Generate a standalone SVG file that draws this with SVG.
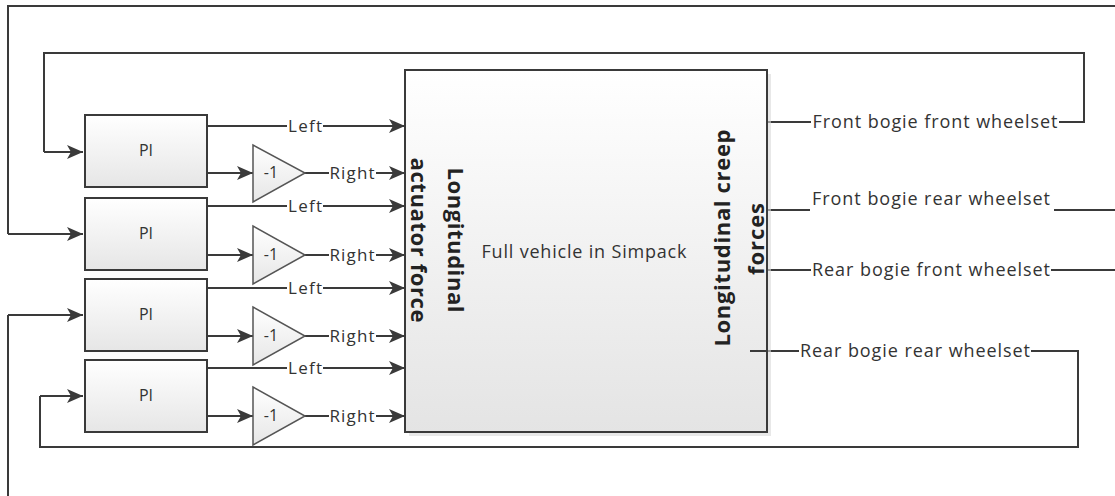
<svg xmlns="http://www.w3.org/2000/svg" width="1115" height="496" viewBox="0 0 1115 496">
<defs>
<linearGradient id="gBox" x1="0" y1="0" x2="0" y2="1"><stop offset="0" stop-color="#ffffff"/><stop offset="1" stop-color="#e6e6e6"/></linearGradient>
<linearGradient id="gBig" x1="0" y1="0" x2="0" y2="1"><stop offset="0" stop-color="#ffffff"/><stop offset="1" stop-color="#e4e4e4"/></linearGradient>
<marker id="arr" markerUnits="userSpaceOnUse" markerWidth="18" markerHeight="16" refX="16" refY="8" orient="auto"><path d="M0,1 L16,8 L0,15 L4,8 Z" fill="#3a3a3a"/></marker>
<style>
.ln{fill:none;stroke:#3a3a3a;stroke-width:2}
.ar{fill:none;stroke:#3a3a3a;stroke-width:2;marker-end:url(#arr)}
.box{fill:url(#gBox);stroke:#3a3a3a;stroke-width:2}
.tri{fill:url(#gBox);stroke:#555;stroke-width:1.5}
.t{font-family:"Open Sans","Liberation Sans",sans-serif;font-size:18px;fill:#333;text-anchor:middle;dominant-baseline:central}
.s{font-size:17px}
.p{font-size:16px}
.b{font-family:"Open Sans","Liberation Sans",sans-serif;font-size:22px;font-weight:bold;fill:#222;text-anchor:middle;dominant-baseline:central}
.bg{fill:#fff}
</style>
</defs>
<rect width="1115" height="496" fill="#fff"/>
<g id="connectors">
<path class="ln" d="M1115 6 H8 V234"/><path class="ar" d="M8 234 H83"/>
<path class="ln" d="M767 122 H1084 V53 H44 V152"/><path class="ar" d="M44 152 H83"/>
<path class="ln" d="M767 210 H1115"/>
<path class="ln" d="M767 270 H1115"/>
<path class="ln" d="M750 351 H1078 V447 H40 V396"/><path class="ar" d="M40 396 H83"/>
<path class="ln" d="M8 496 V315"/><path class="ar" d="M8 315 H83"/>
<path class="ar" d="M207 126 H405"/><path class="ar" d="M207 173 H253"/><path class="ar" d="M305 173 H405"/>
<path class="ar" d="M207 206 H405"/><path class="ar" d="M207 255 H253"/><path class="ar" d="M305 255 H405"/>
<path class="ar" d="M207 288 H405"/><path class="ar" d="M207 336 H253"/><path class="ar" d="M305 336 H405"/>
<path class="ar" d="M207 368 H405"/><path class="ar" d="M207 416 H253"/><path class="ar" d="M305 416 H405"/>
<rect class="bg" x="287" y="117" width="36" height="18"/><text class="t s" x="305" y="125" textLength="34">Left</text>
<rect class="bg" x="287" y="197" width="36" height="18"/><text class="t s" x="305" y="205" textLength="34">Left</text>
<rect class="bg" x="287" y="279" width="36" height="18"/><text class="t s" x="305" y="287" textLength="34">Left</text>
<rect class="bg" x="287" y="359" width="36" height="18"/><text class="t s" x="305" y="367" textLength="34">Left</text>
<rect class="bg" x="329" y="164" width="47" height="18"/><text class="t s" x="352" y="172" textLength="45">Right</text>
<rect class="bg" x="329" y="246" width="47" height="18"/><text class="t s" x="352" y="254" textLength="45">Right</text>
<rect class="bg" x="329" y="327" width="47" height="18"/><text class="t s" x="352" y="335" textLength="45">Right</text>
<rect class="bg" x="329" y="407" width="47" height="18"/><text class="t s" x="352" y="415" textLength="45">Right</text>
<rect class="bg" x="811" y="112" width="248" height="20"/><text class="t" x="935" y="121" textLength="245">Front bogie front wheelset</text>
<rect class="bg" x="810" y="200" width="244" height="20"/><text class="t" x="931" y="198" textLength="238">Front bogie rear wheelset</text>
<rect class="bg" x="811" y="260" width="240" height="20"/><text class="t" x="931" y="269" textLength="238">Rear bogie front wheelset</text>
<rect class="bg" x="799" y="341" width="232" height="20"/><text class="t" x="915" y="350" textLength="230">Rear bogie rear wheelset</text>
</g>
<g id="pi1"><rect class="box" x="85" y="115" width="122" height="72"/><text class="t p" x="146" y="150">PI</text></g>
<g id="pi2"><rect class="box" x="85" y="198" width="122" height="72"/><text class="t p" x="146" y="233">PI</text></g>
<g id="pi3"><rect class="box" x="85" y="279" width="122" height="72"/><text class="t p" x="146" y="314">PI</text></g>
<g id="pi4"><rect class="box" x="85" y="360" width="122" height="72"/><text class="t p" x="146" y="395">PI</text></g>
<g id="gain1"><polygon class="tri" points="253,145 253,202 305,173"/><text class="t p" x="271" y="172">-1</text></g>
<g id="gain2"><polygon class="tri" points="253,226 253,284 305,255"/><text class="t p" x="271" y="254">-1</text></g>
<g id="gain3"><polygon class="tri" points="253,307 253,365 305,336"/><text class="t p" x="271" y="335">-1</text></g>
<g id="gain4"><polygon class="tri" points="253,387 253,445 305,416"/><text class="t p" x="271" y="415">-1</text></g>
<g id="vehicle">
<rect x="409" y="74" width="362" height="362" fill="#d8d8d8" opacity="0.6"/>
<rect x="405" y="70" width="362" height="362" fill="url(#gBig)" stroke="#3a3a3a" stroke-width="2"/>
<text class="t" x="584" y="251" textLength="205">Full vehicle in Simpack</text>
<text class="b" x="457" y="240" transform="rotate(90 457 240)" textLength="145">Longitudinal</text>
<text class="b" x="420" y="240" transform="rotate(90 420 240)" textLength="165">actuator force</text>
<text class="b" x="721" y="238" transform="rotate(-90 721 238)" textLength="217">Longitudinal creep</text>
<text class="b" x="755" y="239" transform="rotate(-90 755 239)" textLength="72">forces</text>
</g>
<line x1="750" y1="351" x2="767" y2="351" class="ln"/>
</svg>
